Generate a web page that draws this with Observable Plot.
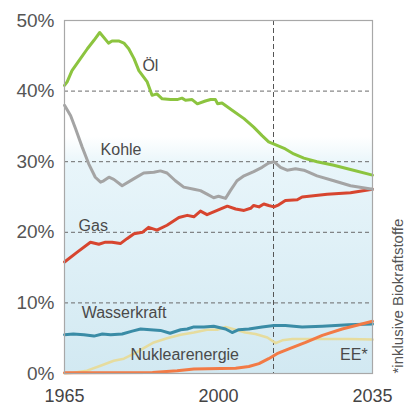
<!DOCTYPE html>
<html>
<head>
<meta charset="utf-8">
<script src="https://cdn.jsdelivr.net/npm/d3@7"></script>
<script src="https://cdn.jsdelivr.net/npm/@observablehq/plot@0.6"></script>
<style>
  html, body { margin: 0; padding: 0; background: #fff; }
  #chart svg { display: block; }
</style>
</head>
<body>
<div id="chart"></div>
<script>
// ---- Data (shares of world primary energy, %) ----
const oilYears = [1965,1965.6,1966.7,1968.3,1970.2,1971.7,1973,1975,1975.8,1977.3,1978.5,1979.6,1980.8,1981.9,1983.8,1984.9,1986,1987.2,1989.1,1990.6,1991.7,1992.5,1994,1995.2,1997,1998.2,1999.3,1999.8,2000.8,2003.1,2005.8,2008,2009.9,2011.4,2013.3,2015.2,2017.1,2019.4,2022.4,2026.2,2030,2035];
const oilValues = [40.8,41.3,42.9,44.3,46,47.2,48.3,46.8,47.1,47.1,46.8,46,44.6,42.9,41.3,39.4,39.6,38.9,38.8,38.8,39,38.7,38.8,38.2,38.6,38.8,38.8,38.2,38.3,37.3,36.1,34.9,33.7,32.8,32.3,31.8,31.1,30.5,30.0,29.5,28.9,28.1];

const coalYears = [1965,1966.4,1967.5,1969,1970.5,1972,1973.2,1973.9,1975.1,1976.2,1978.1,1980.8,1983,1985.3,1986.8,1988.3,1990.2,1992.1,1994.4,1995.9,1997.4,1998.9,2000,2001.6,2002.7,2004.2,2005.8,2008,2009.9,2011.4,2012.6,2014.1,2015.6,2017.5,2019.4,2022.4,2026.2,2030,2035];
const coalValues = [38.0,36.5,34.7,32.1,29.7,27.8,27.1,27.3,27.8,27.5,26.6,27.6,28.4,28.5,28.7,28.4,27.3,26.4,26.1,25.9,25.4,24.9,25.1,24.8,25.9,27.3,28.0,28.6,29.2,29.8,30.0,29.2,28.8,29.0,28.8,28.0,27.3,26.6,26.1];

const gasYears = [1965,1967.9,1970.9,1972.8,1974.3,1975.8,1977.7,1979.2,1980.8,1982.7,1984.1,1986,1988.3,1991,1992.9,1994.4,1995.9,1997.4,1999.7,2002,2003.9,2005.8,2007.3,2008,2009.2,2010.3,2011.4,2012.6,2013.7,2015.2,2017.9,2019,2024.7,2030,2035];
const gasValues = [15.8,17.2,18.6,18.3,18.6,18.6,18.4,19.1,19.8,20.0,20.7,20.3,21.0,22.1,22.4,22.2,23.0,22.5,23.1,23.7,23.3,23.1,23.4,23.8,23.6,24.0,23.8,23.6,23.9,24.5,24.6,25.0,25.4,25.6,26.1];

const hydroYears = [1965,1967,1969.4,1971.7,1973.6,1975.5,1978.1,1980.4,1982.3,1984.5,1986.8,1989,1991.4,1992.9,1994.4,1996.7,1998.9,2001.6,2003.1,2004.6,2006.9,2009.9,2012.6,2015.2,2019,2023.6,2029.6,2035];
const hydroValues = [5.5,5.6,5.5,5.3,5.6,5.5,5.6,6.0,6.3,6.2,6.1,5.7,6.2,6.3,6.6,6.6,6.7,6.3,5.8,6.2,6.3,6.6,6.8,6.8,6.6,6.7,6.9,7.0];

const nuclearYears = [1965,1967,1970.1,1973.2,1976.2,1978.5,1980.8,1983,1985.3,1988.3,1991.4,1994.4,1997.4,1999.7,2001.6,2003.9,2006.1,2008.4,2011.1,2013,2014.5,2016.8,2022.1,2029.6,2035];
const nuclearValues = [0.05,0.1,0.4,1.1,1.8,2.1,2.8,3.6,4.4,5.0,5.5,5.8,6.2,6.2,6.6,6.2,5.8,5.6,5.1,4.3,4.7,4.9,4.9,4.9,4.8];

const reYears = [1965,1985,1990.6,1994.4,2000.5,2003.9,2006.9,2009.2,2011.4,2013.3,2016,2019.8,2023.6,2028.1,2031.9,2035];
const reValues = [0.1,0.15,0.4,0.65,0.7,0.75,1.0,1.4,2.1,2.8,3.5,4.4,5.4,6.3,6.9,7.4];

const yTicks = [0,10,20,30,40,50];
const gridValues = [10,20,30,40];
const xTicks = [1965,2000,2035];
const forecastStart = [2012.5];

const seriesLabels = ["Öl","Kohle","Gas","Wasserkraft","Nuklearenergie","EE*"];
const labelYears = [1982.7,1973.2,1968.2,1968.9,1980,2033.9];
const labelValues = [42.9,30.9,20.2,7.8,1.85,1.85];
const labelAnchors = ["start","start","start","start","start","end"];
const footnote = "*inklusive Biokraftstoffe";

// ---- Build tables ----
const toRows = (ys, vs) => ys.map((y, i) => ({year: y, value: vs[i]}));
const oil = toRows(oilYears, oilValues);
const coal = toRows(coalYears, coalValues);
const gas = toRows(gasYears, gasValues);
const hydro = toRows(hydroYears, hydroValues);
const nuclear = toRows(nuclearYears, nuclearValues);
const re = toRows(reYears, reValues);
const labels = seriesLabels.map((t, i) => ({text: t, year: labelYears[i], value: labelValues[i], anchor: labelAnchors[i]}));

const font = "'Liberation Sans', Arial, Helvetica, sans-serif";
const line = (data, stroke, w = 3) => Plot.line(data, {x: "year", y: "value", stroke, strokeWidth: w, strokeLinejoin: "round", strokeLinecap: "round"});
const labelMark = (anchor) => Plot.text(labels.filter(d => d.anchor === anchor), {x: "year", y: "value", text: "text", textAnchor: anchor, lineAnchor: "bottom", fontSize: 16, fill: "#4a4a4a"});

const chart = Plot.plot({
  width: 407,
  height: 407,
  marginLeft: 64,
  marginRight: 35,
  marginTop: 20,
  marginBottom: 34,
  style: {fontFamily: font, background: "white", overflow: "visible"},
  x: {domain: [1965, 2035]},
  y: {domain: [0, 50]},
  marks: [
    Plot.rectY([{x1: 1965, x2: 2035, y1: 0, y2: 50}], {x1: "x1", x2: "x2", y1: "y1", y2: "y2", fill: "url(#bgGrad)"}),
    Plot.ruleY(gridValues, {stroke: "#6a6a6a", strokeWidth: 1, strokeDasharray: "4,3"}),
    Plot.ruleX(forecastStart, {stroke: "#555", strokeWidth: 1, strokeDasharray: "5,3"}),
    line(nuclear, "#e6dc9e", 2.5),
    line(hydro, "#3a8ca6"),
    line(re, "#f27a45"),
    line(gas, "#d7452f"),
    line(coal, "#a4a4a4"),
    line(oil, "#8cc43f"),
    Plot.frame({stroke: "#a8a8a8", strokeWidth: 1.2}),
    Plot.axisY(yTicks, {tickSize: 0, tickPadding: 10, fontSize: 19, tickFormat: d => d + "%", color: "#555"}),
    Plot.axisX(xTicks, {tickSize: 0, tickPadding: 16, fontSize: 18, tickFormat: d => String(d), color: "#444"}),
    labelMark("start"),
    labelMark("end"),
    Plot.text([footnote], {frameAnchor: "bottom-right", dx: 26, rotate: -90, textAnchor: "start", lineAnchor: "middle", fontSize: 15, fill: "#555"})
  ]
});

// gradient background definition
const svg = d3.select(chart);
const defs = svg.insert("defs", ":first-child");
const grad = defs.append("linearGradient").attr("id", "bgGrad").attr("x1", 0).attr("y1", 0).attr("x2", 0).attr("y2", 1);
grad.append("stop").attr("offset", "0").attr("stop-color", "#ffffff");
grad.append("stop").attr("offset", "0.33").attr("stop-color", "#ffffff");
grad.append("stop").attr("offset", "0.41").attr("stop-color", "#e8f5fa");
grad.append("stop").attr("offset", "1").attr("stop-color", "#d2e9f2");

document.getElementById("chart").appendChild(chart);
</script>
</body>
</html>
